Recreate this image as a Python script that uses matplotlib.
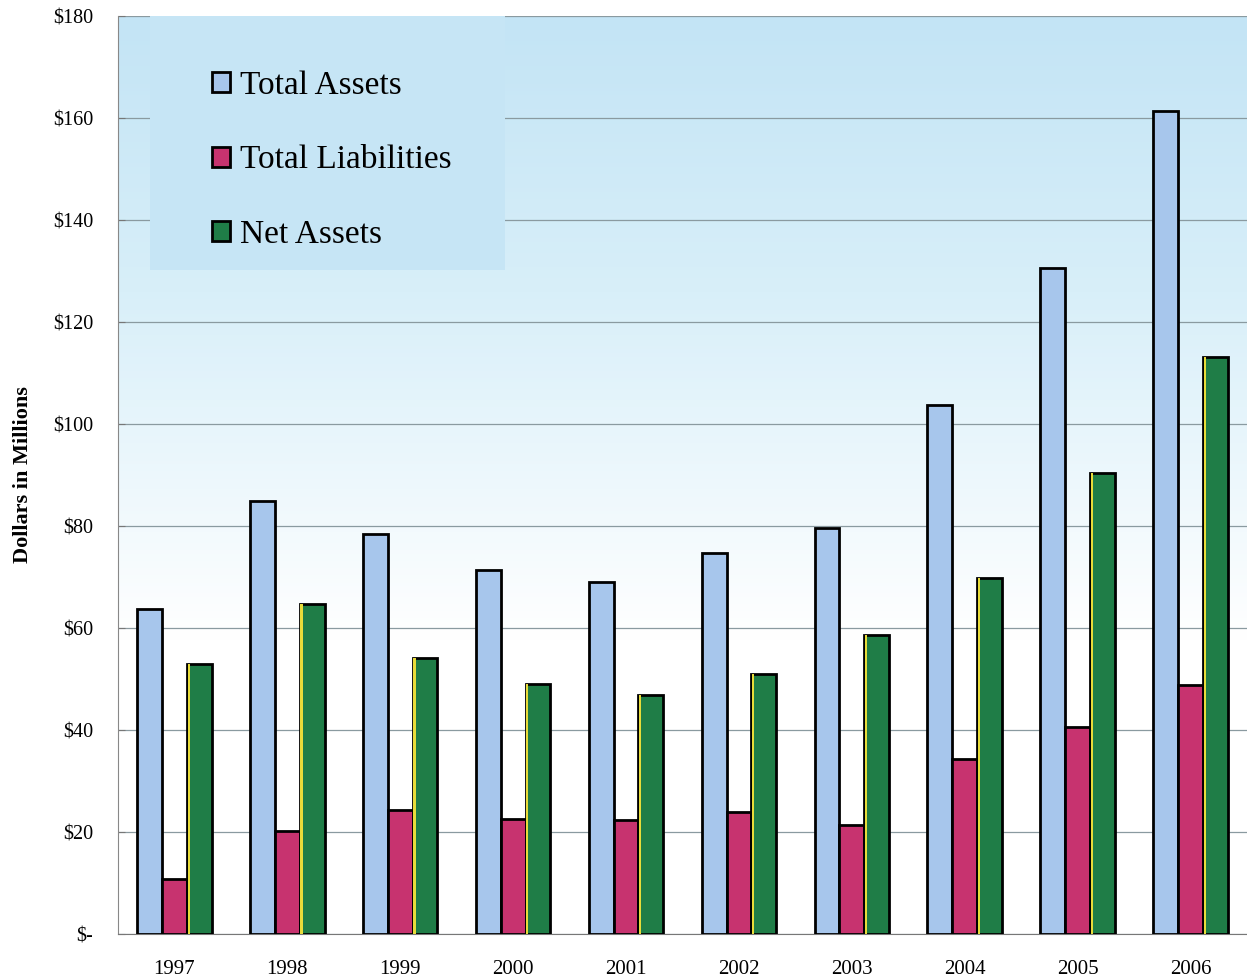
import numpy as np
import matplotlib.pyplot as plt
from matplotlib.colors import LinearSegmentedColormap
from matplotlib.patches import Rectangle

years = ["1997", "1998", "1999", "2000", "2001", "2002", "2003", "2004", "2005", "2006"]
total_assets = [63.7, 84.9, 78.4, 71.4, 69.0, 74.7, 79.6, 103.7, 130.6, 161.4]
total_liabilities = [10.8, 20.2, 24.3, 22.5, 22.4, 23.9, 21.4, 34.3, 40.6, 48.8]
net_assets = [52.9, 64.7, 54.1, 49.0, 46.9, 51.0, 58.6, 69.8, 90.4, 113.1]
yticks = [0, 20, 40, 60, 80, 100, 120, 140, 160, 180]
ytick_labels = ["$-"] + ["$%d" % v for v in yticks[1:]]

plt.rcParams['font.family'] = ['Liberation Serif', 'DejaVu Serif']

fig = plt.figure(figsize=(12.47, 9.77), dpi=100)
ax = fig.add_axes([0.0946, 0.044, 0.9054, 0.9396])

x = np.arange(len(years))
w = 0.22

# sky-blue wash fading to white toward the bottom
cmap = LinearSegmentedColormap.from_list("sky", [(0.0, "#ffffff"), (0.32, "#ffffff"), (0.7, "#d8eff9"), (1.0, "#c3e4f5")])
grad = np.linspace(0, 1, 256).reshape(-1, 1)
ax.imshow(grad, cmap=cmap, aspect="auto", origin="lower", extent=(-0.5, 9.5, 0, 180), zorder=0)

ax.grid(axis="y", color="#8a9aa0", linewidth=0.9, zorder=1)
ax.set_axisbelow(True)

# plain panel behind the legend (hides the grid there)
ax.add_patch(Rectangle((0.0283, 0.7233), 0.3144, 0.2767, transform=ax.transAxes,
                       facecolor="#c6e5f5", edgecolor="none", zorder=2))

ax.bar(x - w, total_assets, w, color="#a7c6ec", edgecolor="black", linewidth=2, label="Total Assets", zorder=3)
ax.bar(x, total_liabilities, w, color="#c7336f", edgecolor="black", linewidth=2, label="Total Liabilities", zorder=3)
ax.bar(x + w, net_assets, w, color="#1f7d47", edgecolor="black", linewidth=2, label="Net Assets", zorder=3)
# yellow highlight along the left edge of the net assets bars
ax.bar(x + w - w / 2 + 0.016, net_assets, 0.02, color="#e8dc3a", linewidth=0, zorder=4)

ax.set_xlim(-0.5, 9.5)
ax.set_ylim(0, 180)
ax.set_yticks(yticks)
ax.set_yticklabels(ytick_labels, fontsize=14.5)
ax.set_xticks(x)
ax.set_xticklabels(years, fontsize=15)
ax.tick_params(axis="x", length=0, pad=19)
ax.tick_params(axis="y", direction="in", length=5, color="#777777", pad=18)
ax.set_ylabel("Dollars in Millions", fontsize=16, fontweight="bold", labelpad=14)

for s in ["top", "right"]:
    ax.spines[s].set_visible(False)
ax.spines["left"].set_color("#888888")
ax.spines["left"].set_linestyle((0, (1, 1)))
ax.spines["bottom"].set_color("#777777")

leg = ax.legend(loc="upper left", bbox_to_anchor=(0.0834, 0.9404), fontsize=24, frameon=False,
                handlelength=0.55, handleheight=0.55, handletextpad=0.3, labelspacing=1.31,
                borderpad=0, borderaxespad=0)
leg.set_zorder(5)

fig.savefig("out.png", dpi=100)
